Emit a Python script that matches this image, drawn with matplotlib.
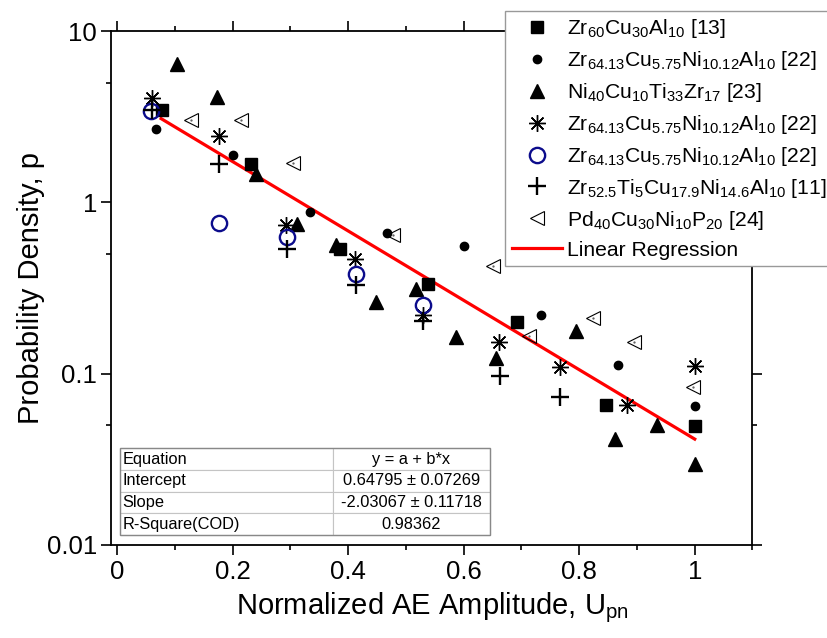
import matplotlib
matplotlib.use("Agg")
import matplotlib.pyplot as plt
from matplotlib.ticker import LogLocator, MultipleLocator, NullFormatter, FuncFormatter
from matplotlib.patches import Rectangle

plt.rcParams['font.family'] = ['Liberation Sans', 'DejaVu Sans']
plt.rcParams['mathtext.fontset'] = 'custom'
plt.rcParams['mathtext.rm'] = 'Liberation Sans'
plt.rcParams['mathtext.default'] = 'regular'

# Zr60Cu30Al10 [13]
sq_x = [0.077, 0.231, 0.385, 0.538, 0.692, 0.846, 1.0]
sq_y = [3.48, 1.68, 0.537, 0.335, 0.200, 0.066, 0.0494]

# Zr64.13Cu5.75Ni10.12Al10 [22] (dots)
dot_x = [0.067, 0.200, 0.333, 0.467, 0.600, 0.733, 0.867, 1.0]
dot_y = [2.67, 1.88, 0.88, 0.666, 0.554, 0.220, 0.112, 0.0644]

# Ni40Cu10Ti33Zr17 [23]
tri_x = [0.104, 0.172, 0.240, 0.311, 0.379, 0.448, 0.517, 0.586, 0.656, 0.794, 0.862, 0.934, 1.0]
tri_y = [6.45, 4.12, 1.47, 0.751, 0.567, 0.262, 0.312, 0.164, 0.124, 0.177, 0.0418, 0.0499, 0.0295]

# Zr64.13Cu5.75Ni10.12Al10 [22] (asterisks)
ast_x = [0.0595, 0.176, 0.292, 0.412, 0.529, 0.661, 0.767, 0.882, 1.0]
ast_y = [4.08, 2.44, 0.734, 0.469, 0.220, 0.154, 0.109, 0.0653, 0.111]

# Zr64.13Cu5.75Ni10.12Al10 [22] (open circles)
circ_x = [0.0585, 0.1766, 0.294, 0.413, 0.530]
circ_y = [3.41, 0.757, 0.627, 0.380, 0.251]

# Zr52.5Ti5Cu17.9Ni14.6Al10 [11]
plus_x = [0.060, 0.1765, 0.2947, 0.4133, 0.530, 0.662, 0.767]
plus_y = [3.45, 1.67, 0.537, 0.328, 0.203, 0.0968, 0.073]

# Pd40Cu30Ni10P20 [24]
lt_x = [0.127, 0.2147, 0.3037, 0.478, 0.650, 0.7134, 0.823, 0.895, 0.9963]
lt_y = [3.02, 3.02, 1.70, 0.644, 0.425, 0.165, 0.211, 0.153, 0.0833]

# end points of the fitted line
fit_x = [0.076, 1.0]
fit_y = [3.08, 0.0415]

labels = [
    'Zr$_{60}$Cu$_{30}$Al$_{10}$ [13]',
    'Zr$_{64.13}$Cu$_{5.75}$Ni$_{10.12}$Al$_{10}$ [22]',
    'Ni$_{40}$Cu$_{10}$Ti$_{33}$Zr$_{17}$ [23]',
    'Zr$_{64.13}$Cu$_{5.75}$Ni$_{10.12}$Al$_{10}$ [22]',
    'Zr$_{64.13}$Cu$_{5.75}$Ni$_{10.12}$Al$_{10}$ [22]',
    'Zr$_{52.5}$Ti$_{5}$Cu$_{17.9}$Ni$_{14.6}$Al$_{10}$ [11]',
    'Pd$_{40}$Cu$_{30}$Ni$_{10}$P$_{20}$ [24]',
    'Linear Regression',
]

table_rows = [
    ['Equation', 'y = a + b*x'],
    ['Intercept', '0.64795 \u00b1 0.07269'],
    ['Slope', '-2.03067 \u00b1 0.11718'],
    ['R-Square(COD)', '0.98362'],
]

fig = plt.figure(figsize=(8.27, 6.38), dpi=100)
ax = fig.add_axes([0.1348, 0.1458, 0.7751, 0.8056])

ax.plot(fit_x, fit_y, color='#ff0000', lw=2.3, zorder=2, label=labels[7])
ax.plot(sq_x, sq_y, 's', color='black', ms=8.5, ls='none', label=labels[0], zorder=3)
ax.plot(dot_x, dot_y, 'o', color='black', ms=6, ls='none', label=labels[1], zorder=3)
ax.plot(tri_x, tri_y, '^', color='black', ms=9.5, ls='none', label=labels[2], zorder=3)
ax.plot(ast_x, ast_y, marker=(8, 2, 0), color='black', ms=12, mew=1.0, ls='none',
        label=labels[3], zorder=3)
ax.plot(circ_x, circ_y, 'o', mfc='none', mec='#0c0c8c', ms=11, mew=1.7, ls='none',
        label=labels[4], zorder=3)
ax.plot(plus_x, plus_y, '+', color='black', ms=13, mew=1.7, ls='none', label=labels[5], zorder=3)
ax.plot(lt_x, lt_y, '<', mfc='none', mec='black', ms=9.5, mew=0.8, ls='none',
        label=labels[6], zorder=3)
ax.plot(lt_x, lt_y, '.', color='#555555', ms=1.2, ls='none', zorder=3)

ax.set_yscale('log')
ax.set_xlim(-0.01, 1.1)
ax.set_ylim(0.01, 10)

ax.xaxis.set_major_locator(MultipleLocator(0.2))
ax.xaxis.set_minor_locator(MultipleLocator(0.1))
ax.xaxis.set_major_formatter(FuncFormatter(lambda v, p: '%g' % round(v, 2)))
ax.yaxis.set_major_locator(LogLocator(base=10, numticks=10))
ax.yaxis.set_minor_locator(LogLocator(base=10, subs=[5], numticks=10))
ax.yaxis.set_major_formatter(FuncFormatter(lambda v, p: '%g' % v))
ax.yaxis.set_minor_formatter(NullFormatter())

ax.tick_params(which='both', direction='out', top=True, right=True, width=1.2, labelsize=18.5)
ax.tick_params(which='major', length=7)
ax.tick_params(which='minor', length=3.5)
for s in ax.spines.values():
    s.set_linewidth(1.3)

ax.set_xlabel('Normalized AE Amplitude, U$_{pn}$', fontsize=21, labelpad=5)
ax.set_ylabel('Probability Density, p', fontsize=21, labelpad=1)

# legend sits partly outside the axes, as in the original
handles, labs = ax.get_legend_handles_labels()
order = [1, 2, 3, 4, 5, 6, 7, 0]
leg = fig.legend([handles[i] for i in order], [labs[i] for i in order],
                 loc='upper left', bbox_to_anchor=(505 / 827, 1 - 10.7 / 638),
                 fontsize=15.2, frameon=True, fancybox=False, framealpha=1,
                 edgecolor='#999999', borderpad=0.32, labelspacing=0.42,
                 handlelength=2.4, handletextpad=0.2, borderaxespad=0)
leg.get_frame().set_linewidth(1.0)

# fit results table
tb = ax.table(cellText=table_rows, colWidths=[0.576, 0.424],
              bbox=[0.0133, 0.0195, 0.577, 0.1686], zorder=4)
tb.auto_set_font_size(False)
for (r, c), cell in tb.get_celld().items():
    cell.set_edgecolor('#c4c4c4')
    cell.set_linewidth(0.8)
    cell.set_fontsize(11.8)
    cell.PAD = 0.012
    cell.get_text().set_ha('left' if c == 0 else 'center')
    cell._loc = 'left' if c == 0 else 'center'
ax.add_patch(Rectangle((0.0133, 0.0195), 0.577, 0.1686, transform=ax.transAxes,
                       fill=False, edgecolor='#888888', lw=1.0, zorder=5))

fig.savefig('out.png', dpi=100)
